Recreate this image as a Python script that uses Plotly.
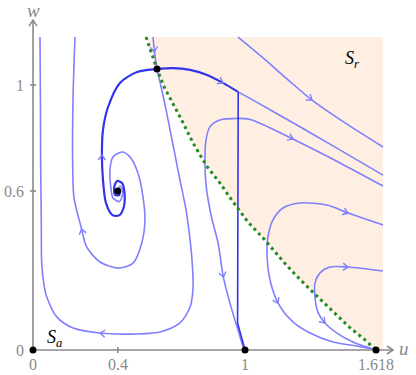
import math
import plotly.graph_objects as go

# ---------------- data (phase plane u, w) ----------------
U_MAX, W_MAX = 1.651, 1.181           # extent of the drawn window

# green dotted critical curve
green_u = [0.533, 0.560, 0.585, 0.620, 0.656, 0.701, 0.755, 0.819, 0.882, 0.937,
           1.014, 1.094, 1.179, 1.220, 1.310, 1.401, 1.491, 1.566, 1.618]
green_w = [1.181, 1.120, 1.060, 0.990, 0.936, 0.868, 0.781, 0.694, 0.630, 0.566,
           0.483, 0.415, 0.335, 0.299, 0.226, 0.158, 0.087, 0.038, 0.000]

# light streamlines (listed in flow order where possible)
A_u = [0.566, 0.573, 0.585, 0.599, 0.623, 0.656, 0.693, 0.722, 0.741, 0.750, 0.755,
       0.741, 0.693, 0.599, 0.458, 0.316, 0.189, 0.112, 0.065, 0.052, 0.041, 0.039,
       0.036, 0.035, 0.033]
A_w = [1.181, 1.125, 1.060, 1.011, 0.925, 0.792, 0.642, 0.528, 0.415, 0.340, 0.238,
       0.162, 0.102, 0.068, 0.060, 0.064, 0.083, 0.125, 0.200, 0.245, 0.328, 0.491,
       0.706, 0.943, 1.181]

B_u = [0.3995, 0.410, 0.423, 0.418, 0.407, 0.377, 0.367, 0.363, 0.377, 0.420, 0.458,
       0.495, 0.519, 0.528, 0.513, 0.472, 0.401, 0.316, 0.253, 0.229, 0.193, 0.187,
       0.189, 0.198]
B_w = [0.600, 0.619, 0.604, 0.574, 0.560, 0.574, 0.615, 0.679, 0.728, 0.747, 0.728,
       0.668, 0.577, 0.491, 0.404, 0.328, 0.309, 0.332, 0.389, 0.457, 0.577, 0.706,
       0.955, 1.181]

L1_u = [0.967, 1.080, 1.198, 1.316, 1.472, 1.651]
L1_w = [1.181, 1.106, 1.023, 0.943, 0.857, 0.766]

L2_u = [0.967, 1.038, 1.212, 1.401, 1.651]
L2_w = [0.974, 0.943, 0.864, 0.777, 0.660]

L3_u = [1.651, 1.448, 1.226, 1.094, 1.024, 0.967, 0.882, 0.835, 0.816, 0.811, 0.819,
        0.843, 0.873, 0.898, 0.929, 0.967, 0.992, 1.000]
L3_w = [0.619, 0.706, 0.796, 0.847, 0.870, 0.874, 0.868, 0.843, 0.792, 0.698, 0.604,
        0.498, 0.404, 0.275, 0.177, 0.075, 0.011, 0.000]

L4_u = [1.651, 1.486, 1.387, 1.259, 1.179, 1.132, 1.108, 1.104, 1.118, 1.156, 1.226,
        1.307, 1.415, 1.528, 1.618]
L4_w = [0.472, 0.517, 0.547, 0.555, 0.536, 0.491, 0.426, 0.351, 0.264, 0.177, 0.106,
        0.064, 0.030, 0.015, 0.000]

L5_u = [1.651, 1.486, 1.401, 1.354, 1.330, 1.330, 1.344, 1.377, 1.434, 1.509, 1.618]
L5_w = [0.298, 0.313, 0.313, 0.291, 0.253, 0.200, 0.143, 0.102, 0.064, 0.030, 0.000]

# thick (dark blue) orbit pieces
T1_u = [0.3995, 0.408, 0.387, 0.383, 0.397, 0.420, 0.432, 0.427, 0.406, 0.375, 0.344,
        0.330, 0.325, 0.330, 0.354, 0.410, 0.491, 0.585]
T1_w = [0.600, 0.585, 0.585, 0.615, 0.638, 0.630, 0.589, 0.536, 0.508, 0.509, 0.555,
        0.642, 0.736, 0.830, 0.917, 1.008, 1.049, 1.060]
T2_u = [0.585, 0.660, 0.741, 0.821, 0.896, 0.967]
T2_w = [1.060, 1.064, 1.057, 1.038, 1.008, 0.974]
T3_u = [0.968, 0.967, 0.965, 1.000]
T3_w = [0.974, 0.500, 0.102, 0.000]

# equilibria
eq_u = [0, 0.4, 0.585, 1, 1.618]
eq_w = [0, 0.6, 1.060, 0, 0]

# ticks
x_ticks = [0, 0.4, 1, 1.618]
x_tick_labels = ["0", "0.4", "1", "1.618"]
y_ticks = [0, 0.6, 1]
y_tick_labels = ["0", "0.6", "1"]

# arrows: (curve, index, direction sign)
arrow_specs = [("A", 1, 1), ("A", 15, 1), ("B", 19, 1), ("T1", 12, 1), ("T2", 4, 1),
               ("L1", 3, 1), ("L3", 2, -1), ("L3", 13, 1), ("L4", 1, -1),
               ("L4", 9, 1), ("L5", 1, -1), ("L5", 7, 1)]

# ---------------- styling ----------------
W_PX, H_PX = 416, 375
XR = [-0.1557, 1.8066]
YR = [-0.0943, 1.3208]
SX = W_PX / (XR[1] - XR[0])
SY = H_PX / (YR[1] - YR[0])

LIGHT = "#8080ff"
DARK = "#3333ee"
GREEN = "#228b22"
SHADE = "rgb(254,239,226)"
AXIS = "#8a8a8a"
FONT = "Liberation Serif"

curves = {"A": (A_u, A_w), "B": (B_u, B_w), "L1": (L1_u, L1_w), "L2": (L2_u, L2_w),
          "L3": (L3_u, L3_w), "L4": (L4_u, L4_w), "L5": (L5_u, L5_w),
          "T1": (T1_u, T1_w), "T2": (T2_u, T2_w)}


def chevron(tu, tw, ex, ey, L=5.0, H=3.6):
    """chevron with tip at (tu, tw), pointing along screen unit vector (ex, ey)."""
    px, py = -ey, ex
    xs, ys = [], []
    for s in (1, -1):
        bx = -L * ex + s * H * px
        by = -L * ey + s * H * py
        xs.append(tu + bx / SX)
        ys.append(tw - by / SY)
    return [xs[0], tu, xs[1], None], [ys[0], tw, ys[1], None]


fig = go.Figure()

# shaded repelling region
fig.add_trace(go.Scatter(x=green_u + [U_MAX, U_MAX], y=green_w + [0, W_MAX],
                         fill="toself", fillcolor=SHADE, mode="none",
                         hoverinfo="skip"))

for name in ["A", "B", "L1", "L2", "L3", "L4", "L5"]:
    u, w = curves[name]
    fig.add_trace(go.Scatter(x=u, y=w, mode="lines", line=dict(color=LIGHT, width=1.6,
                             shape="spline", smoothing=0.8), hoverinfo="skip"))

fig.add_trace(go.Scatter(x=T3_u, y=T3_w, mode="lines",
                         line=dict(color=DARK, width=1.6), hoverinfo="skip"))
for name in ["T1", "T2"]:
    u, w = curves[name]
    fig.add_trace(go.Scatter(x=u, y=w, mode="lines", line=dict(color=DARK, width=2.2,
                             shape="spline", smoothing=0.8), hoverinfo="skip"))

fig.add_trace(go.Scatter(x=green_u, y=green_w, mode="lines",
                         line=dict(color=GREEN, width=3, dash="3px,3.5px"),
                         hoverinfo="skip"))

# flow-direction arrowheads
arr_x, arr_y = [], []
for name, i, sgn in arrow_specs:
    u, w = curves[name]
    i0, i1 = max(i - 1, 0), min(i + 1, len(u) - 1)
    dx = (u[i1] - u[i0]) * SX * sgn
    dy = -(w[i1] - w[i0]) * SY * sgn
    n = math.hypot(dx, dy)
    cx, cy = chevron(u[i], w[i], dx / n, dy / n)
    arr_x += cx
    arr_y += cy
fig.add_trace(go.Scatter(x=arr_x, y=arr_y, mode="lines",
                         line=dict(color=LIGHT, width=1.4), hoverinfo="skip"))

# axes (shaft + arrowhead + ticks)
ax_x, ax_y = [0, 1.698, None, 0, 0, None], [0, 0, None, 0, 1.245, None]
cx, cy = chevron(1.698, 0, 1, 0, L=6, H=4)
ax_x += cx; ax_y += cy
cx, cy = chevron(0, 1.245, 0, -1, L=6, H=4)
ax_x += cx; ax_y += cy
for v in x_ticks[1:]:
    ax_x += [v, v, None]
    ax_y += [-3 / SY, 3 / SY, None]
for v in y_ticks[1:]:
    ax_x += [-3 / SX, 3 / SX, None]
    ax_y += [v, v, None]
fig.add_trace(go.Scatter(x=ax_x, y=ax_y, mode="lines", cliponaxis=False,
                         line=dict(color=AXIS, width=1.6), hoverinfo="skip"))

fig.add_trace(go.Scatter(x=eq_u, y=eq_w, mode="markers",
                         marker=dict(color="black", size=7), hoverinfo="skip",
                         cliponaxis=False))

annotations = []
# tick labels
for v, t in zip(x_ticks, x_tick_labels):
    annotations.append(dict(x=v, y=0, yshift=-14, text=t, showarrow=False,
                            font=dict(family=FONT, size=16, color=AXIS)))
for v, t in zip(y_ticks, y_tick_labels):
    annotations.append(dict(x=0, y=v, xshift=-7, xanchor="right", text=t,
                            showarrow=False,
                            font=dict(family=FONT, size=16, color=AXIS)))

# axis names and region labels
annotations.append(dict(x=1.75, y=0.004, text="<i>u</i>", showarrow=False,
                        font=dict(family=FONT, size=19, color=AXIS)))
annotations.append(dict(x=0, y=1.283, text="<i>w</i>", showarrow=False,
                        font=dict(family=FONT, size=19, color=AXIS)))
annotations.append(dict(x=0.10, y=0.045, text="<i>S</i><sub><i>a</i></sub>",
                        showarrow=False, font=dict(family=FONT, size=18,
                                                   color="black")))
annotations.append(dict(x=1.505, y=1.098, text="<i>S</i><sub><i>r</i></sub>",
                        showarrow=False, font=dict(family=FONT, size=18,
                                                   color="black")))

fig.update_layout(
    width=W_PX, height=H_PX, margin=dict(l=0, r=0, t=0, b=0),
    paper_bgcolor="white", plot_bgcolor="rgba(0,0,0,0)", showlegend=False,
    xaxis=dict(range=XR, visible=False, fixedrange=True),
    yaxis=dict(range=YR, visible=False, fixedrange=True),
    annotations=annotations,
)

# remove the browser's default 8px body margin so the figure fills the window
fig.write_html("out.html", config={"displayModeBar": False},
               post_script="document.body.style.margin='0';")
